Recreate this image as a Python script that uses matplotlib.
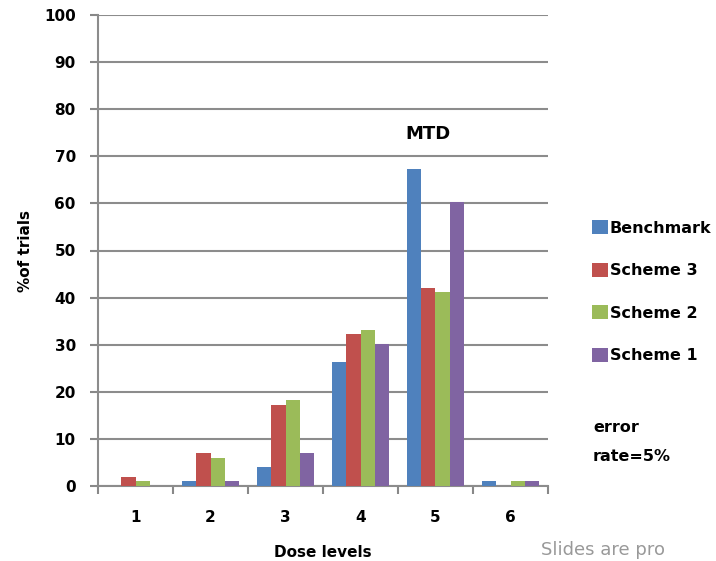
import matplotlib
matplotlib.use("Agg")
import matplotlib.pyplot as plt
import numpy as np

plt.rcParams['font.family'] = ['DejaVu Sans']

dose_levels = ['1', '2', '3', '4', '5', '6']
series_names = ['Benchmark', 'Scheme 3', 'Scheme 2', 'Scheme 1']
benchmark = [0, 1, 4, 26.3, 67.3, 1]
scheme3 = [2, 7, 17.3, 32.2, 42.1, 0]
scheme2 = [1, 6, 18.2, 33.2, 41.2, 1]
scheme1 = [0, 1, 7, 30.2, 60.3, 1]
colors = ['#4F81BD', '#C0504D', '#9BBB59', '#8064A2']
y_ticks = [0, 10, 20, 30, 40, 50, 60, 70, 80, 90, 100]

fig = plt.figure(figsize=(7.16, 5.61), dpi=100)
ax = fig.add_axes([98/716, (561-486)/561, (548-98)/716, (486-15)/561])

x = np.arange(len(dose_levels))
w = 0.19
data = [benchmark, scheme3, scheme2, scheme1]
for i, (vals, name, c) in enumerate(zip(data, series_names, colors)):
    ax.bar(x + (i - 1.5) * w, vals, width=w, color=c, label=name, zorder=3)

ax.set_xlim(-0.5, len(dose_levels) - 0.5)
ax.set_ylim(0, 100)
ax.set_yticks(y_ticks)
ax.set_yticklabels([str(t) for t in y_ticks], fontweight='bold', fontsize=11)
ax.set_xticks(x)
ax.set_xticklabels(dose_levels, fontweight='bold', fontsize=11)
ax.tick_params(axis='x', length=0, pad=17)
ax.set_xticks(np.arange(-0.5, len(dose_levels)), minor=True)
ax.tick_params(axis='x', which='minor', length=6, color='#888888', width=1.5, direction='out')
ax.tick_params(axis='y', length=6, color='#888888', width=1.5, direction='out', pad=10)
ax.grid(axis='y', color='#8c8c8c', linewidth=1.5, zorder=0)
for s in ['top', 'right']:
    ax.spines[s].set_visible(False)
for s in ['left', 'bottom']:
    ax.spines[s].set_color('#8c8c8c')
    ax.spines[s].set_linewidth(1.5)

ax.set_xlabel('Dose levels', fontweight='bold', fontsize=11, labelpad=15)
ax.set_ylabel('%of trials', fontweight='bold', fontsize=11, labelpad=8)

ax.text(3.9, 74.7, 'MTD', fontweight='bold', fontsize=13, ha='center', va='center')

leg = fig.legend(loc='upper left', bbox_to_anchor=(578/716, 1 - 206/561), frameon=False,
                 handlelength=0.95, handleheight=0.95, handletextpad=0.15,
                 labelspacing=1.7, prop={'weight': 'bold', 'size': 11.5})

fig.text(593/716, 1 - 442/561, 'error\nrate=5%', fontweight='bold', fontsize=11.5,
         ha='left', va='center', linespacing=2.2)
fig.text(541/716, 1 - 559/561, 'Slides are pro', color='#999999', fontsize=13,
         ha='left', va='bottom')

fig.savefig('out.png', dpi=100)
